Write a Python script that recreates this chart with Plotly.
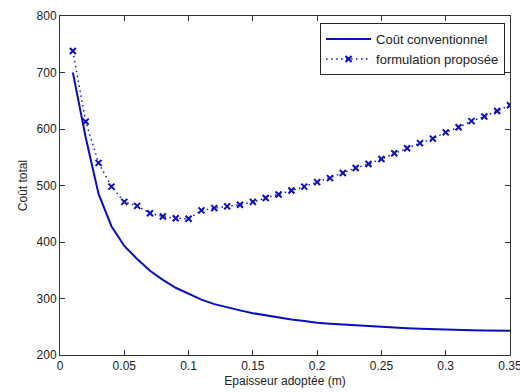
import plotly.graph_objects as go

# Conventional cost (solid line)
x_conv = [0.01, 0.02, 0.03, 0.04, 0.05, 0.06, 0.07, 0.08, 0.09, 0.10,
          0.11, 0.12, 0.13, 0.14, 0.15, 0.16, 0.17, 0.18, 0.19, 0.20,
          0.21, 0.22, 0.23, 0.24, 0.25, 0.26, 0.27, 0.28, 0.29, 0.30,
          0.31, 0.32, 0.33, 0.34, 0.35]
y_conv = [700, 585, 485, 428, 393, 370, 349, 333, 319, 308,
          298, 290, 284, 279, 274, 270, 266, 263, 260, 257,
          255.5, 254, 252.5, 251, 249.5, 248.5, 247.5, 246.5, 245.5, 244.5,
          244, 243.6, 243.3, 243.1, 243]

# Proposed formulation (dotted with x markers)
x_prop = x_conv
y_prop = [738, 613, 540, 498, 471, 464, 451, 445, 442, 441,
          456, 460, 463, 466, 471, 478, 484, 491, 498, 506,
          513, 522, 531, 538, 547, 557, 566, 575, 583, 594,
          603, 614, 622, 632, 642]

x_ticks = [0, 0.05, 0.1, 0.15, 0.2, 0.25, 0.3, 0.35]
x_ticklabels = ["0", "0.05", "0.1", "0.15", "0.2", "0.25", "0.3", "0.35"]
y_ticks = [200, 300, 400, 500, 600, 700, 800]

name_conv = "Coût conventionnel"
name_prop = "formulation proposée"
x_title = "Epaisseur adoptée (m)"
y_title = "Coût total"

blue = "#0c0cc0"
font_family = "Liberation Sans, Arial, sans-serif"
txt = "#222222"

fig = go.Figure()
fig.add_trace(go.Scatter(x=x_conv, y=y_conv, mode="lines", name=name_conv,
                         line=dict(color=blue, width=2)))
fig.add_trace(go.Scatter(x=x_prop, y=y_prop, mode="lines+markers", name=name_prop,
                         line=dict(color=blue, width=1.4, dash="1.5px,3.5px"),
                         marker=dict(symbol="x-thin", size=6,
                                     line=dict(color=blue, width=2), color=blue)))

axis_common = dict(showline=True, linecolor="#333333", linewidth=1, mirror="ticks",
                   ticks="inside", ticklen=5, tickcolor="#333333", showgrid=False,
                   zeroline=False, automargin=False, ticklabeloverflow="allow",
                   tickfont=dict(size=12, color=txt, family=font_family))

fig.update_xaxes(range=[0, 0.35], tickmode="array", tickvals=x_ticks, ticktext=x_ticklabels,
                 title=dict(text=x_title, font=dict(size=12, color=txt, family=font_family),
                            standoff=4),
                 **axis_common)
fig.update_yaxes(range=[200, 800], tickmode="array", tickvals=y_ticks,
                 title=dict(text=y_title, font=dict(size=12, color=txt, family=font_family),
                            standoff=6),
                 **axis_common)

fig.update_layout(
    width=520, height=392,
    margin=dict(l=60, r=10, t=16, b=37, autoexpand=False),
    paper_bgcolor="white", plot_bgcolor="white",
    font=dict(family=font_family, size=12, color=txt),
    legend=dict(x=0.989, y=0.979, xanchor="right", yanchor="top",
                bgcolor="white", bordercolor="#222222", borderwidth=1,
                font=dict(size=13, family=font_family, color=txt),
                tracegroupgap=0, itemwidth=45),
    showlegend=True,
)

fig.write_html("out.html", config={"displayModeBar": False},
               post_script="document.body.style.margin='0';")
